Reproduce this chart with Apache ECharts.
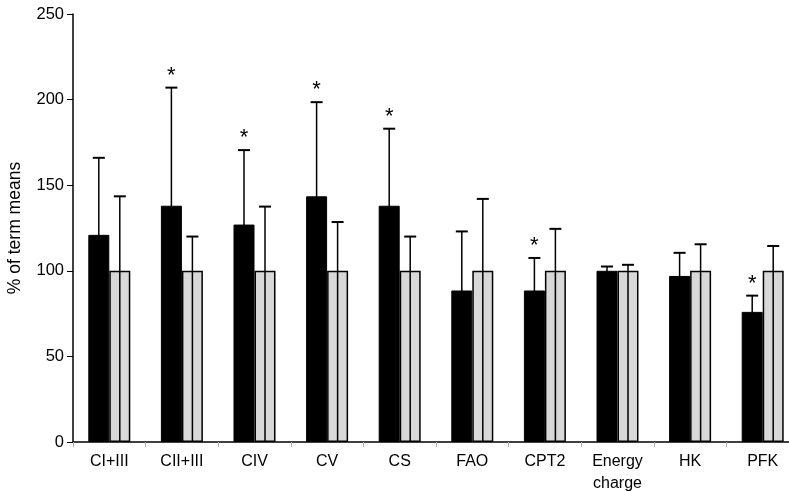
<!DOCTYPE html>
<html><head><meta charset="utf-8">
<script src="https://cdn.jsdelivr.net/npm/echarts@6/dist/echarts.min.js"></script>
<style>html,body{margin:0;padding:0;background:#fff}#c{width:789px;height:491px}</style>
</head><body><div id="c"></div>
<script>
var categories = ['CI+III','CII+III','CIV','CV','CS','FAO','CPT2','Energy\ncharge','HK','PFK'];
var pretermMeans = [121, 138, 127, 143.5, 138, 88.5, 88.5, 100, 97, 76];
var pretermErrTop = [166, 207, 170.5, 198.5, 183, 123, 107.5, 102.5, 110.5, 85.5];
var termMeans = [100, 100, 100, 100, 100, 100, 100, 100, 100, 100];
var termErrTop = [143.5, 120, 137.5, 128.5, 120, 142, 124.5, 103.5, 115.5, 114.5];
var significant = [false, true, true, true, true, false, true, false, false, true];
var yTicks = [0, 50, 100, 150, 200, 250];

var BW = 21;
var font = 'Liberation Sans, Arial, sans-serif';

function errSeries(tops, offset, stars) {
  return {
    type: 'custom',
    z: 5,
    data: tops.map(function (v, i) { return [i, v]; }),
    renderItem: function (params, api) {
      var i = api.value(0);
      var top = api.coord([i, api.value(1)]);
      var x = top[0] + offset;
      var base = api.coord([i, 0]);
      var children = [
        { type: 'line', shape: { x1: x, y1: top[1], x2: x, y2: base[1] - 1 }, style: { stroke: '#000', lineWidth: 1.5 } },
        { type: 'line', shape: { x1: x - 6, y1: top[1], x2: x + 6, y2: top[1] }, style: { stroke: '#000', lineWidth: 2 } }
      ];
      if (stars && stars[i]) {
        children.push({ type: 'text', x: x, y: top[1] - 1, style: { text: '*', fill: '#000', font: '22px ' + font, align: 'center', verticalAlign: 'bottom' } });
      }
      return { type: 'group', children: children };
    }
  };
}

var chart = echarts.init(document.getElementById('c'), null, { renderer: 'canvas' });
chart.setOption({
  animation: false,
  backgroundColor: '#fff',
  grid: { left: 73, top: 14, height: 428, width: 726, containLabel: false, outerBoundsMode: 'none' },
  xAxis: {
    type: 'category',
    data: categories,
    axisLine: { lineStyle: { color: '#000', width: 1.5 } },
    axisTick: { show: true, length: 5, lineStyle: { color: '#aaa' } },
    axisLabel: { color: '#000', fontSize: 16, fontFamily: font, margin: 9, lineHeight: 22 }
  },
  yAxis: {
    type: 'value', min: yTicks[0], max: yTicks[yTicks.length - 1], interval: 50,
    name: '% of term means', nameLocation: 'middle', nameGap: 49,
    nameTextStyle: { color: '#000', fontSize: 17.5, fontFamily: font },
    axisLine: { show: true, lineStyle: { color: '#000', width: 1.5 } },
    axisTick: { show: true, length: 6, lineStyle: { color: '#000' } },
    axisLabel: { color: '#000', fontSize: 16.5, fontFamily: font, margin: 9 },
    splitLine: { show: false }
  },
  series: [
    { type: 'bar', data: pretermMeans, barWidth: BW, barGap: '0%', itemStyle: { color: '#000', borderColor: '#000', borderWidth: 1 } },
    { type: 'bar', data: termMeans, barWidth: BW, barGap: '0%', itemStyle: { color: '#d8d8d8', borderColor: '#000', borderWidth: 1.5 } },
    errSeries(pretermErrTop, -BW / 2, significant),
    errSeries(termErrTop, BW / 2, null)
  ]
});
</script></body></html>
